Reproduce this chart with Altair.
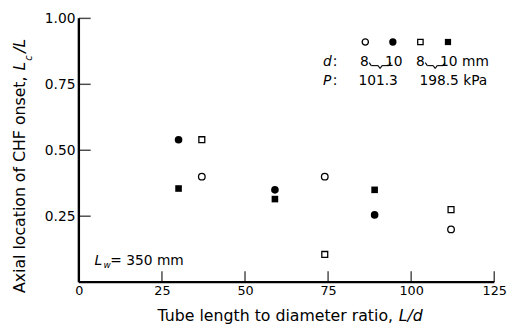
import altair as alt
import pandas as pd

# ---- data ----
x_d8 = [37, 74, 112]          # L/d for d = 8 mm
x_d10 = [30, 59, 89]          # L/d for d = 10 mm
y_open_circle = [0.40, 0.40, 0.20]     # d=8,  P=101.3 kPa
y_filled_circle = [0.54, 0.35, 0.255]  # d=10, P=101.3 kPa
y_open_square = [0.54, 0.105, 0.275]   # d=8,  P=198.5 kPa
y_filled_square = [0.355, 0.315, 0.35] # d=10, P=198.5 kPa
x_ticks = [0, 25, 50, 75, 100, 125]
y_ticks = [0.25, 0.50, 0.75, 1.00]

W, H = 422, 268
FONT = "DejaVu Sans"

xscale = alt.Scale(domain=[0, 125], nice=False, zero=False)
yscale = alt.Scale(domain=[0, 1], nice=False, zero=False)
xaxis = alt.Axis(values=x_ticks, ticks=False, grid=False, domain=False,
                 labelFont=FONT, labelFontSize=13, labelColor="black",
                 labelPadding=3, title=None, labelFlush=False)
yaxis = alt.Axis(values=y_ticks, format=".2f", ticks=False, grid=False, domain=False,
                 labelFont=FONT, labelFontSize=14, labelColor="black",
                 labelPadding=4, title=None)


def X(f):
    return alt.X(f, type="quantitative", scale=xscale, axis=xaxis)


def Y(f):
    return alt.Y(f, type="quantitative", scale=yscale, axis=yaxis)


def pts(xs, ys, shape, filled, size):
    df = pd.DataFrame({"x": xs, "y": ys})
    if filled:
        m = alt.Chart(df).mark_point(shape=shape, filled=True, color="black",
                                     size=size, opacity=1)
    else:
        m = alt.Chart(df).mark_point(shape=shape, filled=False, color="black",
                                     size=size, strokeWidth=1.3, opacity=1)
    return m.encode(x=X("x"), y=Y("y"))


one = pd.DataFrame({"k": [0]})


def txt(s, x, y, size=13, style="normal", align="left", angle=0):
    return alt.Chart(one).mark_text(
        font=FONT, fontSize=size, fontStyle=style, align=align, baseline="middle",
        color="black", angle=angle
    ).encode(x=alt.value(x), y=alt.value(y), text=alt.value(s))


def seg(x1, y1, x2, y2, w=1.1):
    return alt.Chart(one).mark_rule(color="black", strokeWidth=w).encode(
        x=alt.value(x1), y=alt.value(y1), x2=alt.value(x2), y2=alt.value(y2))


def sym(shape, filled, x, y, size):
    if filled:
        m = alt.Chart(one).mark_point(shape=shape, filled=True, color="black",
                                      size=size, opacity=1)
    else:
        m = alt.Chart(one).mark_point(shape=shape, filled=False, color="black",
                                      size=size, strokeWidth=1.3, opacity=1)
    return m.encode(x=alt.value(x), y=alt.value(y))


def brace(x0, x1, y0=45, y1=48, ym=51):
    xm = (x0 + x1) / 2
    return [seg(x0, y0, x0 + 2, y1), seg(x0 + 2, y1, xm - 2, y1), seg(xm - 2, y1, xm, ym),
            seg(xm, ym, xm + 2, y1), seg(xm + 2, y1, x1 - 2, y1), seg(x1 - 2, y1, x1, y0)]


# inward tick marks, drawn through the scales
yt = alt.Chart(pd.DataFrame({"v": y_ticks, "z": [0] * len(y_ticks)})).mark_tick(
    color="black", thickness=1.5, size=12, orient="horizontal", xOffset=6).encode(
    y=Y("v"), x=X("z"))
xt = alt.Chart(pd.DataFrame({"v": x_ticks, "z": [0] * len(x_ticks)})).mark_tick(
    color="black", thickness=1.5, size=11, orient="vertical", yOffset=-5.5).encode(
    x=X("v"), y=Y("z"))

layers = [
    seg(0, 0, 0, H, 2.4),
    seg(0, H, W, H, 2.4),
    yt, xt,
    pts(x_d8, y_open_circle, "circle", False, 45),
    pts(x_d10, y_filled_circle, "circle", True, 60),
    pts(x_d8, y_open_square, "square", False, 36),
    pts(x_d10, y_filled_square, "square", True, 45),
    # legend block
    sym("circle", False, 291, 24, 40),
    sym("circle", True, 319, 24, 55),
    sym("square", False, 347, 24, 30),
    sym("square", True, 375, 24, 40),
    txt("d", 248, 44, size=14, style="italic"),
    txt(":", 258, 44, size=14),
    txt("8", 290, 44, size=14, align="center"),
    txt("10", 320, 44, size=14, align="center"),
    txt("8", 347, 44, size=14, align="center"),
    txt("10 mm", 367, 44, size=14),
    txt("P", 248, 64, size=14, style="italic"),
    txt(":", 258, 64, size=14),
    txt("101.3", 304, 64, size=14, align="center"),
    txt("198.5 kPa", 346, 64, size=14),
    # L_w = 350 mm
    txt("L", 16, 247, size=14, style="italic"),
    txt("w", 25, 251, size=9, style="italic"),
    txt("= 350 mm", 32, 247, size=14),
    # y title
    txt("Axial location of CHF onset,", -60, 59, size=16, align="right", angle=270),
    txt("L", -60, 53, size=16, style="italic", align="left", angle=270),
    txt("c", -51, 43, size=10, style="italic", align="left", angle=270),
    txt("/L", -60, 35, size=16, style="italic", align="left", angle=270),
    # x title
    txt("Tube length to diameter ratio,", 80, 302, size=16),
    txt("L/d", 325, 302, size=16, style="italic"),
] + brace(295, 317) + brace(352, 372)

chart = alt.layer(*layers).properties(
    width=W, height=H,
    autosize=alt.AutoSizeParams(type="none"),
    padding={"left": 72, "top": 8, "right": 15, "bottom": 42},
).configure_view(stroke=None)

chart.save("out.html", embed_options={"renderer": "svg", "actions": False})
